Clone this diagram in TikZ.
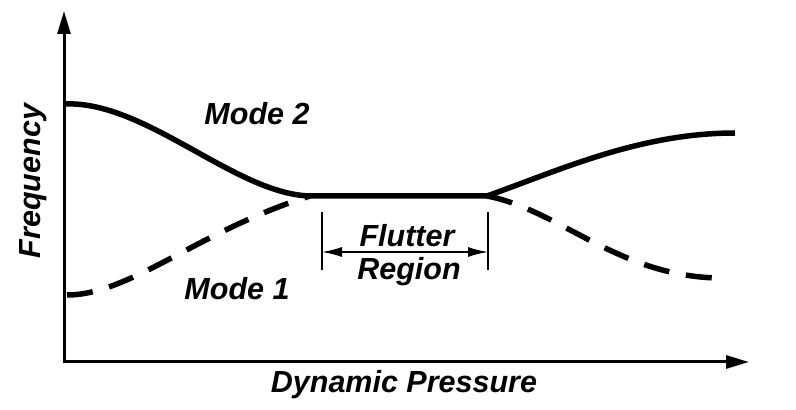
\documentclass[tikz,border=0pt]{standalone}
\usepackage{fontspec}
\setmainfont{Liberation Sans}
\usetikzlibrary{arrows.meta}

\begin{document}
\begin{tikzpicture}[
    x=1pt, y=1pt,
    axis_style/.style={line width=3pt, {Triangle[length=23pt,width=13pt]}-{Triangle[length=23pt,width=13pt]}},
    mode_style/.style={line width=5.5pt},
    dash_style/.style={line width=5.5pt, dash pattern=on 26pt off 17pt},
    region_style/.style={line width=1.5pt},
    label_style/.style={font=\fontsize{30.5}{35}\selectfont\bfseries\itshape, inner sep=0}
]

    % --- 画布 ---
    \useasboundingbox (0,0) rectangle (796,410);

    % --- 坐标轴 ---
    \coordinate (origin) at (64,48);
    \coordinate (ytop) at (64,399);
    \coordinate (xend) at (749,48);
    \draw[axis_style] (ytop) -- (origin) -- (xend);

    \node[label_style, rotate=90] (freq) at (33,229) {Frequency};
    \node[label_style] (dynp) at (404,25) {Dynamic Pressure};

    % --- 模态曲线 ---
    \coordinate (m2start) at (64,306);
    \coordinate (mergeL) at (310,214);
    \coordinate (mergeR) at (487,214);
    \coordinate (m2end) at (735,277);
    \coordinate (m1start) at (67,115);
    \coordinate (m1end) at (722,132);

    % Mode 2 (实线)
    \draw[mode_style] (m2start) .. controls (145,310) and (235,216) .. (mergeL)
        -- (mergeR) .. controls (560,240) and (640,277) .. (m2end);

    % Mode 1 (虚线)
    \draw[dash_style] (m1start) .. controls (130,115) and (200,180) .. (mergeL);
    \draw[dash_style] (mergeR) .. controls (560,200) and (620,132) .. (m1end);

    \node[label_style] (mode2) at (257,296) {Mode 2};
    \node[label_style] (mode1) at (237,121) {Mode 1};

    % --- 颤振区 ---
    \coordinate (regLtop) at (322,198);
    \coordinate (regLbot) at (322,140);
    \coordinate (regRtop) at (488,198);
    \coordinate (regRbot) at (488,140);
    \coordinate (arrL) at (322,158);
    \coordinate (arrR) at (488,158);
    \draw[region_style] (regLtop) -- (regLbot);
    \draw[region_style] (regRtop) -- (regRbot);
    \draw[region_style, {Latex[length=20pt,width=10pt]}-{Latex[length=20pt,width=10pt]}] (arrL) -- (arrR);

    \node[label_style] (flutter) at (407,174) {Flutter};
    \node[label_style] (region) at (409,138) {Region};

\end{tikzpicture}
\end{document}
